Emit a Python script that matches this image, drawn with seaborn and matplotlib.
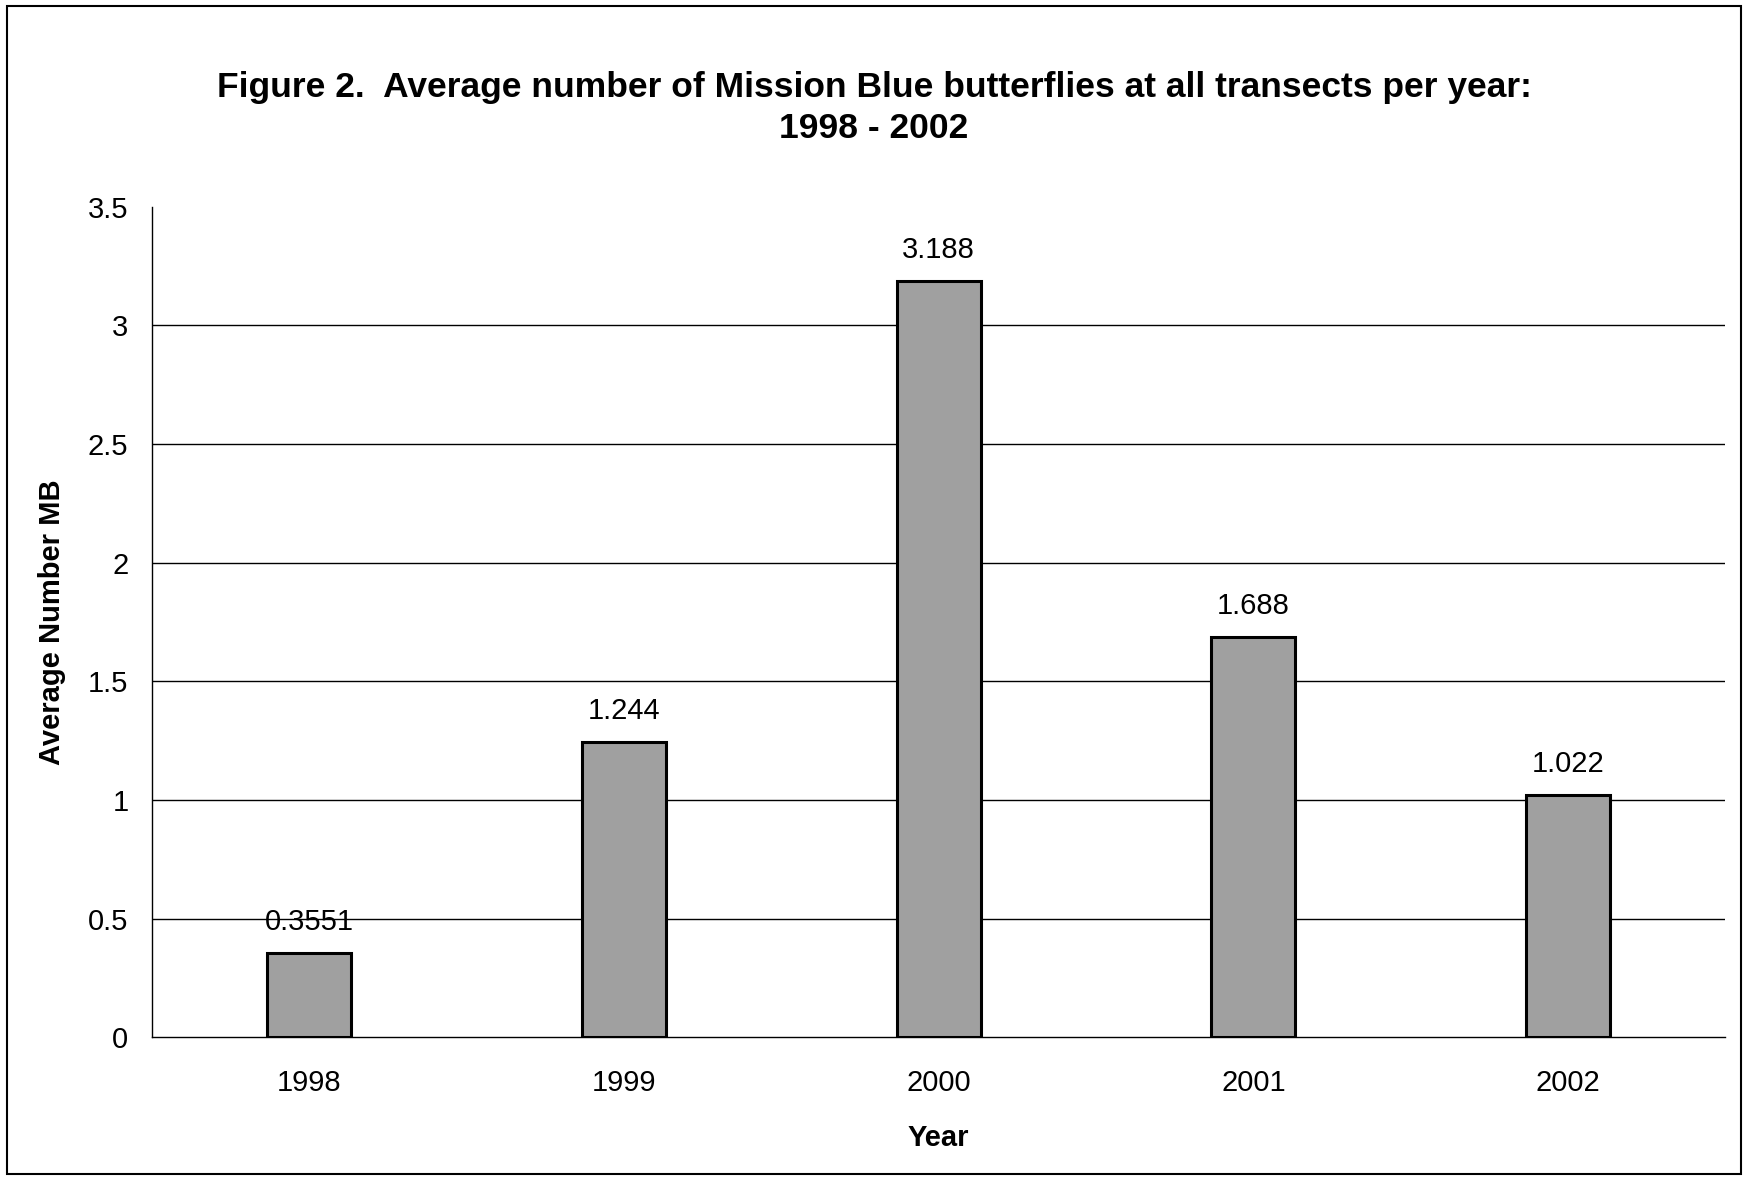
import pandas as pd
import matplotlib.pyplot as plt
import seaborn as sns

years = ['1998', '1999', '2000', '2001', '2002']
avg_mb = [0.3551, 1.244, 3.188, 1.688, 1.022]
value_labels = ['0.3551', '1.244', '3.188', '1.688', '1.022']

df = pd.DataFrame({'Year': years, 'Average Number MB': avg_mb})

sns.set_style('white')
plt.rcParams['font.family'] = ['Liberation Sans', 'DejaVu Sans']
plt.rcParams['text.color'] = 'black'
plt.rcParams['xtick.color'] = 'black'
plt.rcParams['ytick.color'] = 'black'
plt.rcParams['axes.labelcolor'] = 'black'

fig = plt.figure(figsize=(17.48, 11.8), dpi=100)
ax = fig.add_axes([0.087, 0.121, 0.900, 0.704])

sns.barplot(data=df, x='Year', y='Average Number MB', color='#a0a0a0',
            width=0.267, edgecolor='black', linewidth=2.2, saturation=1, ax=ax, zorder=3)

# data labels above bars
for i, (v, lab) in enumerate(zip(avg_mb, value_labels)):
    ax.text(i, v + 0.07, lab, ha='center', va='bottom', fontsize=21)

ax.set_ylim(0, 3.5)
ax.set_xlim(-0.5, 4.5)
ax.set_yticks([0, 0.5, 1, 1.5, 2, 2.5, 3, 3.5])
ax.set_yticklabels(['0', '0.5', '1', '1.5', '2', '2.5', '3', '3.5'], fontsize=21)
for y in [0.5, 1, 1.5, 2, 2.5, 3]:
    ax.axhline(y, color='black', linewidth=1, zorder=1)

# ticks between categories
ax.set_xticks([-0.5, 0.5, 1.5, 2.5, 3.5, 4.5])
ax.set_xticklabels([])
ax.set_xticks(range(5), minor=True)
ax.set_xticklabels(years, minor=True, fontsize=21)
ax.tick_params(axis='x', which='major', direction='out', length=9, width=1, color='black')
ax.tick_params(axis='x', which='minor', length=0, pad=23)
ax.tick_params(axis='y', direction='out', length=7, width=1, color='black', pad=10)

sns.despine(ax=ax, top=True, right=True)
for s in ['left', 'bottom']:
    ax.spines[s].set_color('black')
    ax.spines[s].set_linewidth(1)

ax.set_xlabel('Year', fontsize=21, fontweight='bold', labelpad=19)
ax.set_ylabel('Average Number MB', fontsize=21, fontweight='bold', labelpad=16)

fig.suptitle('Figure 2.  Average number of Mission Blue butterflies at all transects per year:\n1998 - 2002',
             fontsize=25.5, fontweight='bold', y=0.94, linespacing=1.3)

# border around whole chart
fig.patches.append(plt.Rectangle((0.004, 0.005), 0.992, 0.99, transform=fig.transFigure,
                                 fill=False, edgecolor='black', linewidth=1.5))

fig.savefig('out.png', dpi=100)
